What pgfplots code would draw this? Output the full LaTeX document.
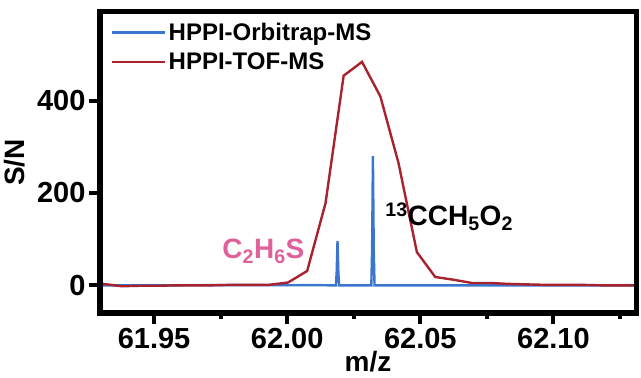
\documentclass[border=0pt]{standalone}
\usepackage{pgfplots}
\pgfplotsset{compat=1.18}
\usepackage{fontspec}
\setmainfont{Liberation Sans}
\definecolor{orbi}{RGB}{58,118,206}
\definecolor{tof}{RGB}{168,35,45}
\definecolor{pinkc}{RGB}{224,96,154}
\begin{document}
\begin{tikzpicture}
\begin{axis}[
  name=ax,
  scale only axis,
  width=536bp, height=301bp,
  xmin=61.9297, xmax=62.131,
  ymin=-60, ymax=592,
  xtick={61.95,62.00,62.05,62.10},
  minor xtick={61.975,62.025,62.075,62.125},
  ytick={0,200,400},
  tick align=outside,
  xtick pos=bottom, ytick pos=left,
  major tick length=11bp, minor tick length=6bp,
  major tick style={line width=4bp, black},
  minor tick style={line width=4bp, black},
  /pgf/number format/assume math mode=true,
  x tick label style={/pgf/number format/.cd, fixed, fixed zerofill, precision=2},
  tick label style={font=\fontsize{29bp}{32bp}\selectfont\bfseries},
  xticklabel shift=1bp,
  label style={font=\fontsize{28bp}{32bp}\selectfont\bfseries},
  xlabel={m/z}, ylabel={S/N},
  xlabel style={yshift=5bp},
  ylabel style={yshift=5bp},
  legend style={at={(0.0,1.0)}, anchor=north west, draw=none, fill=none,
    font=\fontsize{24bp}{28bp}\selectfont\bfseries, inner sep=0pt,
    xshift=11bp, yshift=-9bp, row sep=7bp},
  legend cell align=left,
  legend image code/.code={\draw[#1, line width=2.5bp] (0bp,0bp) -- (53bp,0bp);},
]
\addplot[orbi, line width=2.4bp] coordinates {
(61.9297,0) (61.9600,0) (61.9800,0.5) (62.0000,0) (62.0100,0.5) (62.0150,0)
(62.0183,0) (62.0186,30) (62.0189,96) (62.0192,30) (62.0195,0)
(62.0250,0) (62.0316,0) (62.0319,80) (62.0322,280) (62.0325,80) (62.0328,0)
(62.0400,0) (62.0600,0) (62.0800,0) (62.1000,0) (62.1310,0)
};
\addlegendentry{HPPI-Orbitrap-MS}
\addplot[tof, line width=2.4bp] coordinates {
(61.9297,4) (61.9379,-2) (61.9448,-1) (61.9517,-1) (61.9585,0) (61.9654,0)
(61.9723,0) (61.9792,1) (61.9861,1) (61.9930,1) (62.0003,6) (62.0075,31)
(62.0144,178) (62.0212,454) (62.0281,484) (62.0350,409) (62.0418,265)
(62.0487,72) (62.0556,18) (62.0625,12) (62.0694,5) (62.0763,5) (62.0831,3)
(62.0900,2) (62.0969,1) (62.1038,1) (62.1106,1) (62.1175,0) (62.1244,0) (62.1310,0)
};
\addlegendentry{HPPI-TOF-MS}
\node[anchor=base west, inner sep=0pt, text=pinkc, font=\fontsize{28bp}{32bp}\selectfont\bfseries]
  at (axis cs:61.9756,58) {C\textsubscript{2}H\textsubscript{6}S};
\node[anchor=base west, inner sep=0pt, text=black, font=\fontsize{28bp}{32bp}\selectfont\bfseries]
  at (axis cs:62.0368,130) {\textsuperscript{13}CCH\textsubscript{5}O\textsubscript{2}};
\end{axis}
\draw[line width=5bp] (ax.south west) rectangle (ax.north east);
\pgfresetboundingbox
\path ([shift={(-100bp,-65bp)}]ax.south west) rectangle ([shift={(5bp,12bp)}]ax.north east);
\end{tikzpicture}
\end{document}
